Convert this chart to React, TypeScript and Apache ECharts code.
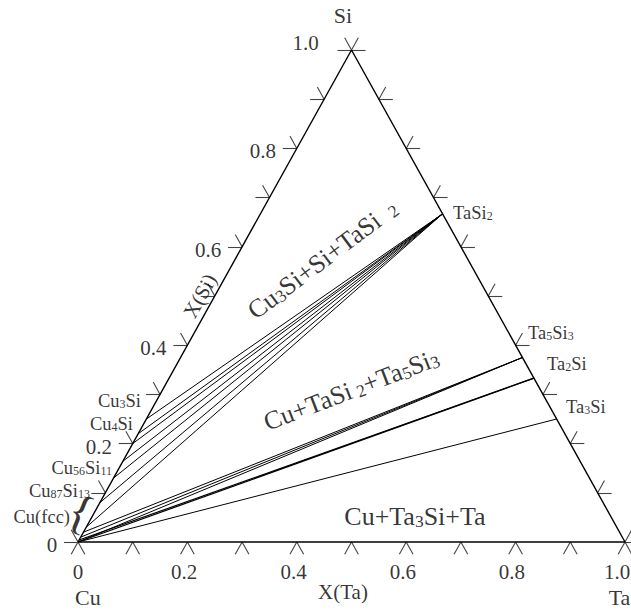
import React, { useEffect, useRef } from 'react';
import * as echarts from 'echarts';

const FONT = "'Liberation Serif', 'Times New Roman', serif";

// axis ticks (fraction) and labels
const tickValues = [0, 0.1, 0.2, 0.3, 0.4, 0.5, 0.6, 0.7, 0.8, 0.9, 1.0];
const axisLabelValues = [0, 0.2, 0.4, 0.6, 0.8, 1.0];
const axisLabelTexts = ['0', '0.2', '0.4', '0.6', '0.8', '1.0'];
const bottomLabelShift = [0, -0.006, -0.006, -0.006, -0.007, -0.0146];
const leftLabelShiftX = [0, 0, 0, 0, 0, -0.022];
const leftLabelShiftY = [0, 0, 0, 0, 0, 0.02];

// Ta–Si binary phases: x(Si)
const taSiPhases = ['TaSi2', 'Ta5Si3', 'Ta2Si', 'Ta3Si'];
const taSiPhaseXSi = [0.667, 0.375, 0.333, 0.25];
const taSiLabelX = [0.6856, 0.8227, 0.8574, 0.8921];
const taSiLabelY = [0.6707, 0.4268, 0.3638, 0.2764];

// Cu–Si side labels
const cuSiPhases = ['Cu3Si', 'Cu4Si', 'Cu56Si11', 'Cu87Si13', 'Cu(fcc)'];
const cuSiLabelX = [0.1152, 0.1005, 0.0622, 0.0219, -0.0146];
const cuSiLabelY = [0.2886, 0.2419, 0.1524, 0.1057, 0.0528];

// tie lines: x(Si) of the Cu-side end, per Ta–Si phase
const tiesTaSi2 = [0.25, 0.22, 0.2, 0.164, 0.13, 0.08, 0.03];
const tiesTa5Si3 = [0.02, 0.01, 0];
const tiesTa2Si = [0.004, 0];
const tiesTa3Si = [0];

// region labels
const regionTexts = ['Cu3Si+Si+TaSi~2', 'Cu+TaSi^2+Ta5Si3', 'Cu+Ta3Si+Ta'];
const regionX = [0.446, 0.499, 0.616];
const regionY = [0.576, 0.311, 0.053];
const regionRotate = [37, 21, 0];

const TICK = 0.025;
const HTICK = 0.0256;

const cuSide = (s: number) => [s / 2, s];
const taSide = (s: number) => [1 - s / 2, s];

function richFor(S: number, s: number) {
  const H = S + 2;
  const h = Math.max(2, 2 * (H / 2 + 0.35 * (s - S) - 0.2 * S));
  const base = { fontFamily: FONT, color: '#000', verticalAlign: 'bottom' as const };
  return {
    n: { ...base, fontSize: S, lineHeight: H },
    s: { ...base, fontSize: s, lineHeight: h },
    g: { ...base, fontSize: s, lineHeight: h, padding: [0, 0, 0, Math.round(S * 0.45)] },
    p: { ...base, fontSize: s, lineHeight: h, padding: [0, 0, 0, Math.round(S * 0.2)] },
  };
}

function chem(str: string) {
  let out = '';
  const re = /([~^]?)(\d+)|([^~^\d]+)/g;
  let m: RegExpExecArray | null;
  while ((m = re.exec(str))) {
    if (m[2]) out += `{${m[1] === '~' ? 'g' : m[1] === '^' ? 'p' : 's'}|${m[2]}}`;
    else out += `{n|${m[3]}}`;
  }
  return out;
}

function textItem(x: number, y: number, fmt: any, S: number, s: number, opts: any = {}) {
  return {
    value: [x, y],
    label: {
      show: true,
      position: 'inside',
      formatter: fmt,
      rich: richFor(S, s),
      align: opts.align || 'center',
      verticalAlign: 'middle',
      rotate: opts.rotate || 0,
      fontFamily: FONT,
      fontSize: S,
      fontWeight: opts.bold ? 'bold' : 'normal',
      color: '#000',
    },
  };
}

function buildOption() {
  // ticks
  const ticks: any[] = [];
  tickValues.forEach((v) => {
    // bottom (X(Ta))
    ticks.push({ coords: [[v, 0], [v - TICK / 2, -TICK]] });
    ticks.push({ coords: [[v, 0], [v + TICK / 2, -TICK]] });
    // left (X(Si))
    const [lx, ly] = cuSide(v);
    ticks.push({ coords: [[lx, ly], [lx - HTICK, ly]] });
    ticks.push({ coords: [[lx, ly], [lx - TICK / 2, ly + TICK]] });
    // right
    const [rx, ry] = taSide(v);
    ticks.push({ coords: [[rx, ry], [rx + HTICK, ry]] });
    ticks.push({ coords: [[rx, ry], [rx + TICK / 2, ry + TICK]] });
  });

  // tie lines
  const ties: any[] = [];
  const addTies = (from: number[], phaseIdx: number, width = 1) =>
    from.forEach((s) =>
      ties.push({ coords: [cuSide(s), taSide(taSiPhaseXSi[phaseIdx])], lineStyle: { width } })
    );
  addTies(tiesTaSi2, 0);
  addTies(tiesTa5Si3, 1);
  addTies(tiesTa2Si, 2, 1.2);
  addTies(tiesTa3Si, 3);

  const texts: any[] = [];
  // bottom axis labels
  axisLabelValues.forEach((v, i) =>
    texts.push(textItem(v + bottomLabelShift[i], -0.06, axisLabelTexts[i], 21, 14))
  );
  // left axis labels
  axisLabelValues.forEach((v, i) =>
    texts.push(
      textItem(v / 2 - 0.038 + leftLabelShiftX[i], v - 0.006 + leftLabelShiftY[i], axisLabelTexts[i], 21, 14, {
        align: 'right',
      })
    )
  );
  // titles
  texts.push(textItem(0.4845, 1.071, 'Si', 22, 15));
  texts.push(textItem(0.018, -0.112, 'Cu', 22, 15));
  texts.push(textItem(0.99, -0.112, 'Ta', 22, 15));
  texts.push(textItem(0.4845, -0.102, 'X(Ta)', 21, 14));
  texts.push(textItem(0.223, 0.5, 'X(Si)', 21, 14, { rotate: 61 }));
  // phases
  taSiPhases.forEach((p, i) =>
    texts.push(textItem(taSiLabelX[i], taSiLabelY[i], chem(p), 18.5, 12, { align: 'left' }))
  );
  cuSiPhases.forEach((p, i) =>
    texts.push(textItem(cuSiLabelX[i], cuSiLabelY[i], chem(p), 18.5, 12, { align: 'right' }))
  );
  texts.push(textItem(0.0055, 0.062, () => '{', 48, 20, { rotate: -22 }));
  // regions
  regionTexts.forEach((t, i) =>
    texts.push(textItem(regionX[i], regionY[i], chem(t), 26, 17.5, { rotate: regionRotate[i] }))
  );

  return {
    animation: false,
    backgroundColor: '#fff',
    grid: { left: 78, top: 50, width: 547, height: 492 },
    xAxis: { type: 'value', min: 0, max: 1, show: false },
    yAxis: { type: 'value', min: 0, max: 1, show: false },
    series: [
      {
        type: 'line',
        data: [[0, 0], [1, 0], [0.5, 1], [0, 0]],
        symbol: 'none',
        clip: false,
        lineStyle: { color: '#000', width: 1.4 },
        z: 3,
        silent: true,
      },
      {
        type: 'lines',
        coordinateSystem: 'cartesian2d',
        data: ticks,
        clip: false,
        lineStyle: { color: '#444', width: 1.1, opacity: 1 },
        z: 2,
        silent: true,
      },
      {
        type: 'lines',
        coordinateSystem: 'cartesian2d',
        data: ties,
        clip: false,
        lineStyle: { color: '#000', width: 1, opacity: 1 },
        z: 2,
        silent: true,
      },
      {
        type: 'scatter',
        data: texts,
        symbolSize: 1,
        clip: false,
        itemStyle: { color: 'rgba(0,0,0,0)' },
        z: 4,
        silent: true,
      },
    ],
  };
}

export default function App() {
  const ref = useRef<HTMLDivElement>(null);
  useEffect(() => {
    document.body.style.margin = '0';
    const chart = echarts.init(ref.current!, null, { renderer: 'svg' });
    chart.setOption(buildOption() as any);
    return () => chart.dispose();
  }, []);
  return <div ref={ref} style={{ width: 631, height: 611 }} />;
}
